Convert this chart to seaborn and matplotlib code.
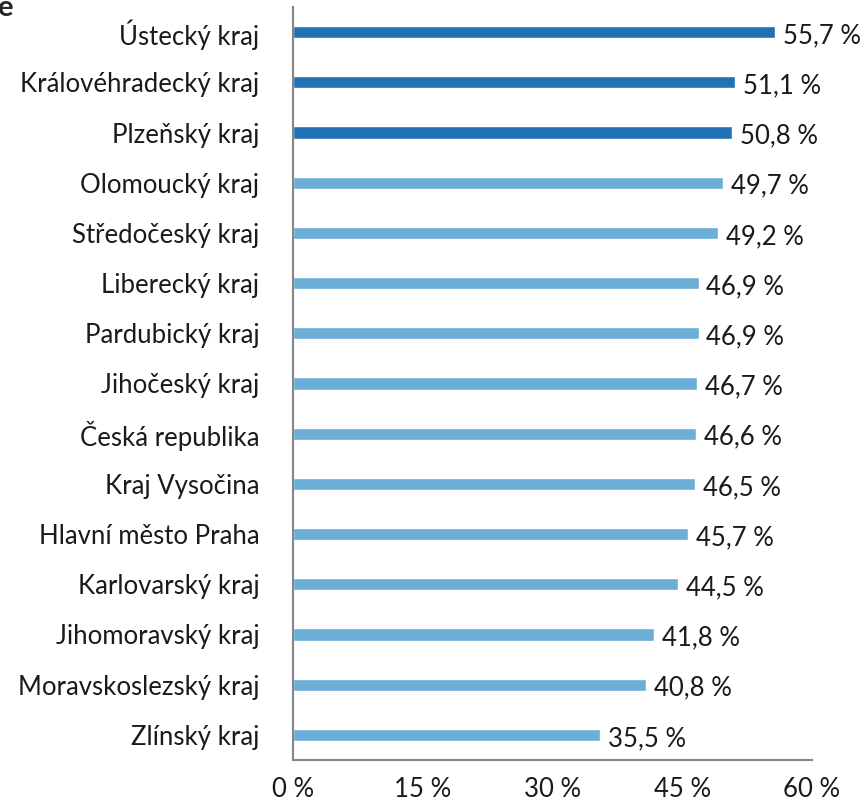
import matplotlib.pyplot as plt
import pandas as pd
import seaborn as sb

# data
regions = ["Ústecký kraj", "Královéhradecký kraj", "Plzeňský kraj", "Olomoucký kraj",
           "Středočeský kraj", "Liberecký kraj", "Pardubický kraj", "Jihočeský kraj",
           "Česká republika", "Kraj Vysočina", "Hlavní město Praha", "Karlovarský kraj",
           "Jihomoravský kraj", "Moravskoslezský kraj", "Zlínský kraj"]
values = [55.7, 51.1, 50.8, 49.7, 49.2, 46.9, 46.9, 46.7, 46.6, 46.5, 45.7, 44.5, 41.8, 40.8, 35.5]
top3 = [True, True, True] + [False] * 12
xticks = [0, 15, 30, 45, 60]

df = pd.DataFrame({"region": regions, "value": values})
colors = {r: ("#2171B5" if t else "#6BAED6") for r, t in zip(regions, top3)}

sb.set_style("white")
plt.rcParams['font.family'] = ['Lato', 'DejaVu Sans']

fig = plt.figure(figsize=(8.66, 8.06), dpi=100)
ax = fig.add_axes([0.338, 0.0571, 0.5996, 0.9342])

sb.barplot(data=df, y="region", x="value", hue="region", palette=colors,
           legend=False, width=0.24, saturation=1, ax=ax, orient="h")

for i, v in enumerate(values):
    ax.text(v + 0.9, i + 0.07, f"{v:.1f} %".replace(".", ","), va="center", ha="left",
            fontsize=18.5, color="#1a1a1a")

ax.set_xlim(0, 60)
ax.set_ylim(14.5, -0.5)
ax.set_xticks(xticks)
ax.set_xticklabels([f"{t} %" for t in xticks])
ax.set_xlabel("")
ax.set_ylabel("")

for s in ["top", "right"]:
    ax.spines[s].set_visible(False)
for s in ["left", "bottom"]:
    ax.spines[s].set_color("#868686")
    ax.spines[s].set_linewidth(1.5)

ax.tick_params(axis="y", length=0, pad=24, labelsize=18.5, labelcolor="#1a1a1a")
ax.tick_params(axis="x", length=5, width=1.5, color="#868686", direction="out",
               pad=7, labelsize=18.5, labelcolor="#1a1a1a")

# cut-off heading remnant in the corner
fig.text(-0.003, 1 - 16 / 806, "ě", fontsize=21, fontweight="bold", va="baseline", ha="left")

plt.savefig("out.png", dpi=100)
